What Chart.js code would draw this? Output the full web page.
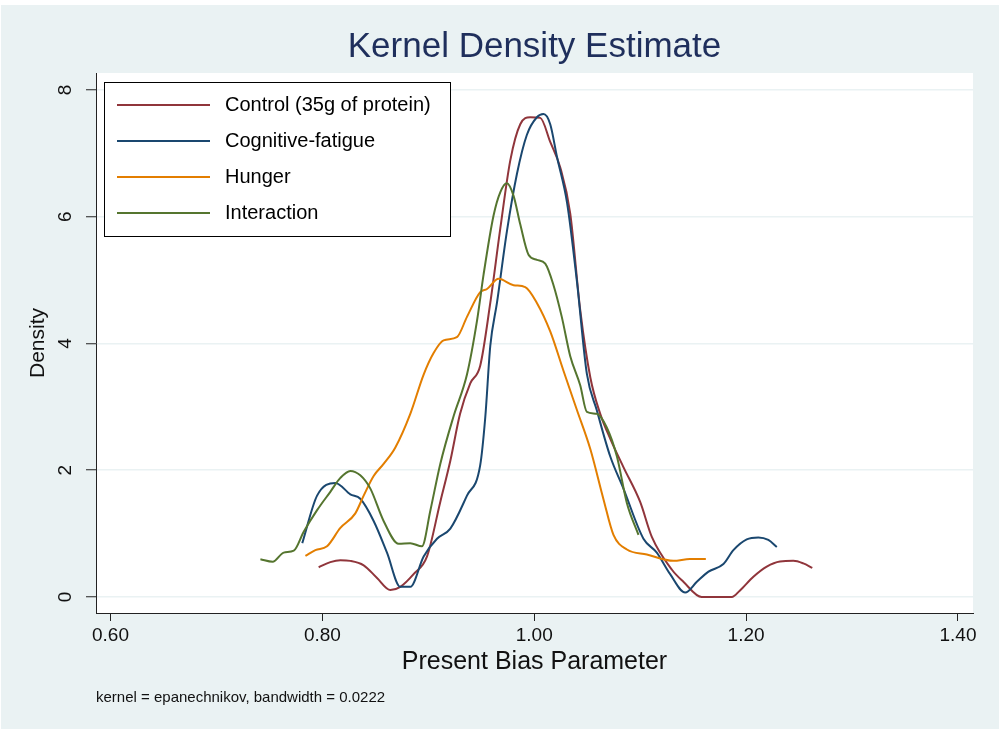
<!DOCTYPE html>
<html lang="en">
<head>
<meta charset="UTF-8">
<title>Kernel Density Estimate</title>
<script src="https://cdn.jsdelivr.net/npm/chart.js"></script>
<style>
  html, body { margin: 0; padding: 0; background: #ffffff; }
  canvas { display: block; }
</style>
</head>
<body>
<canvas id="kdensity" width="999" height="729"></canvas>
<script>
// series labels (legend order)
const seriesLabels = ['Control (35g of protein)', 'Cognitive-fatigue', 'Hunger', 'Interaction'];

// Control (35g of protein)
const controlX = [0.7965, 0.8075, 0.817, 0.8264, 0.839, 0.8516, 0.8642, 0.8736, 0.8861, 0.8988, 0.9113, 0.9208, 0.930, 0.9396, 0.949, 0.9585, 0.968, 0.9774, 0.9868, 0.9962, 1.0057, 1.0151, 1.0245, 1.034, 1.0434, 1.053, 1.0623, 1.0717, 1.0842, 1.100, 1.111, 1.130, 1.1408, 1.158, 1.1865, 1.194, 1.2069, 1.2195, 1.232, 1.2446, 1.254, 1.2625];
const controlY = [0.47, 0.55, 0.58, 0.57, 0.50, 0.30, 0.11, 0.16, 0.36, 0.64, 1.50, 2.15, 2.89, 3.37, 3.65, 4.64, 5.82, 6.89, 7.46, 7.57, 7.56, 7.18, 6.78, 6.05, 4.53, 3.46, 2.89, 2.50, 2.05, 1.50, 0.95, 0.43, 0.24, 0, 0, 0.10, 0.32, 0.48, 0.56, 0.57, 0.53, 0.46];

// Cognitive-fatigue
const fatigueX = [0.781, 0.795, 0.8123, 0.8264, 0.8358, 0.8484, 0.861, 0.8736, 0.883, 0.8956, 0.9082, 0.9208, 0.9365, 0.949, 0.9538, 0.9585, 0.9648, 0.9742, 0.9836, 0.993, 1.0025, 1.0087, 1.0151, 1.0214, 1.031, 1.0403, 1.0497, 1.059, 1.0717, 1.0842, 1.1031, 1.1157, 1.1283, 1.1425, 1.1535, 1.1645, 1.1786, 1.188, 1.2006, 1.2116, 1.221, 1.229];
const fatigueY = [0.85, 1.60, 1.80, 1.62, 1.55, 1.20, 0.70, 0.16, 0.16, 0.64, 0.92, 1.08, 1.60, 2.08, 2.84, 3.96, 4.64, 5.77, 6.67, 7.29, 7.57, 7.62, 7.46, 6.95, 6.22, 4.98, 3.52, 2.95, 2.22, 1.71, 0.92, 0.70, 0.36, 0.07, 0.24, 0.40, 0.52, 0.74, 0.91, 0.94, 0.90, 0.79];

// Hunger
const hungerX = [0.784, 0.7934, 0.8044, 0.817, 0.8311, 0.839, 0.8484, 0.8578, 0.8689, 0.883, 0.8956, 0.905, 0.9144, 0.927, 0.9365, 0.949, 0.9554, 0.9663, 0.9805, 0.9915, 1.0025, 1.0151, 1.0276, 1.0403, 1.053, 1.0654, 1.0748, 1.0875, 1.1063, 1.1314, 1.147, 1.162];
const hungerY = [0.65, 0.74, 0.80, 1.09, 1.32, 1.60, 1.91, 2.10, 2.36, 2.89, 3.51, 3.85, 4.05, 4.10, 4.42, 4.81, 4.86, 5.02, 4.92, 4.89, 4.64, 4.19, 3.57, 2.95, 2.33, 1.54, 0.98, 0.75, 0.67, 0.57, 0.60, 0.60];

// Interaction
const interactionX = [0.7415, 0.7531, 0.7635, 0.773, 0.7824, 0.795, 0.8075, 0.817, 0.8264, 0.8358, 0.8453, 0.8578, 0.872, 0.883, 0.894, 0.902, 0.9113, 0.924, 0.9365, 0.946, 0.9522, 0.9616, 0.968, 0.9742, 0.9805, 0.9868, 0.9946, 1.0025, 1.0104, 1.0182, 1.026, 1.034, 1.0434, 1.0497, 1.059, 1.0686, 1.078, 1.0875, 1.0984];
const interactionY = [0.595, 0.555, 0.70, 0.73, 1.03, 1.37, 1.66, 1.88, 1.99, 1.92, 1.71, 1.20, 0.84, 0.85, 0.80, 1.37, 2.10, 2.86, 3.51, 4.36, 5.09, 6.02, 6.39, 6.53, 6.33, 5.88, 5.40, 5.32, 5.26, 4.92, 4.42, 3.80, 3.34, 2.92, 2.89, 2.67, 2.22, 1.48, 0.98];

// axis ticks
const xTicks = [0.6, 0.8, 1.0, 1.2, 1.4];
const yTicks = [0, 2, 4, 6, 8];

const colors = ['#90353b', '#1a476f', '#e37e00', '#55752f'];
const toPoints = (xs, ys) => xs.map((x, i) => ({ x: x, y: ys[i] }));

Chart.defaults.font.family = '"Liberation Sans", Arial, sans-serif';
Chart.defaults.color = '#111';

// stata style backdrop
const backdrop = {
    id: 'backdrop',
    beforeDraw(chart) {
        const { ctx, chartArea: a } = chart;
        ctx.save();
        ctx.fillStyle = '#eaf2f3';
        ctx.fillRect(1, 5, chart.width - 1, chart.height - 5);
        ctx.fillStyle = '#ffffff';
        ctx.fillRect(a.left, a.top, a.right - a.left, a.bottom - a.top);
        ctx.restore();
    }
};

// boxed legend in the top-left corner of the plot
const boxLegend = {
    id: 'boxLegend',
    afterDraw(chart) {
        const { ctx, chartArea: a } = chart;
        const bx = a.left + 8, by = a.top + 9, bw = 346, bh = 154;
        ctx.save();
        ctx.fillStyle = '#ffffff';
        ctx.fillRect(bx, by, bw, bh);
        ctx.strokeStyle = '#000';
        ctx.lineWidth = 1;
        ctx.strokeRect(bx + 0.5, by + 0.5, bw, bh);
        ctx.font = '20px "Liberation Sans", Arial, sans-serif';
        ctx.textBaseline = 'middle';
        ctx.textAlign = 'left';
        chart.data.datasets.forEach((ds, i) => {
            const y = by + 23 + i * 36;
            ctx.strokeStyle = ds.borderColor;
            ctx.lineWidth = 2;
            ctx.beginPath();
            ctx.moveTo(bx + 13, y);
            ctx.lineTo(bx + 106, y);
            ctx.stroke();
            ctx.fillStyle = '#000';
            ctx.fillText(ds.label, bx + 121, y);
        });
        ctx.restore();
    }
};

const series = [
    toPoints(controlX, controlY),
    toPoints(fatigueX, fatigueY),
    toPoints(hungerX, hungerY),
    toPoints(interactionX, interactionY)
];

new Chart(document.getElementById('kdensity'), {
    type: 'scatter',
    data: {
        datasets: series.map((pts, i) => ({
            label: seriesLabels[i],
            data: pts,
            showLine: true,
            borderColor: colors[i],
            backgroundColor: colors[i],
            borderWidth: 2,
            pointRadius: 0,
            cubicInterpolationMode: 'monotone',
            order: 3 - i
        }))
    },
    options: {
        responsive: false,
        animation: false,
        layout: { padding: { left: 0, right: 26, top: 0, bottom: 0 } },
        plugins: {
            legend: { display: false },
            tooltip: { enabled: false },
            title: {
                display: true,
                text: 'Kernel Density Estimate',
                fullSize: false,
                color: '#1f2f5c',
                font: { size: 35, weight: 'normal' },
                padding: { top: 26, bottom: 5 }
            },
            subtitle: {
                display: true,
                position: 'bottom',
                fullSize: false,
                align: 'start',
                text: 'kernel = epanechnikov, bandwidth = 0.0222',
                color: '#111',
                font: { size: 15 },
                padding: { top: 12, bottom: 22 }
            }
        },
        scales: {
            x: {
                type: 'linear',
                min: 0.5863,
                max: 1.4142,
                afterBuildTicks: s => { s.ticks = xTicks.map(v => ({ value: v })); },
                afterFit: s => { s.height = 64; },
                grid: { drawOnChartArea: false, tickLength: 8, tickColor: '#222', tickWidth: 1 },
                border: { color: '#222', width: 1 },
                ticks: {
                    autoSkip: false,
                    maxRotation: 0,
                    padding: 3,
                    color: '#111',
                    font: { size: 19 },
                    callback: v => Number(v).toFixed(2)
                },
                title: {
                    display: true,
                    text: 'Present Bias Parameter',
                    color: '#111',
                    font: { size: 25 },
                    padding: { top: 0, bottom: 0 }
                }
            },
            y: {
                type: 'linear',
                min: -0.2525,
                max: 8.268,
                afterBuildTicks: s => { s.ticks = yTicks.map(v => ({ value: v })); },
                afterFit: s => { s.width = 96; },
                grid: { color: '#eaf2f3', lineWidth: 1.5, tickLength: 10, tickColor: '#222', tickWidth: 1 },
                border: { color: '#222', width: 1 },
                ticks: {
                    minRotation: 90,
                    maxRotation: 90,
                    crossAlign: 'center',
                    padding: 15,
                    color: '#111',
                    font: { size: 19 }
                },
                title: {
                    display: true,
                    text: 'Density',
                    color: '#111',
                    font: { size: 21 },
                    padding: { top: 26, bottom: 0 }
                }
            }
        }
    },
    plugins: [backdrop, boxLegend]
});
</script>
</body>
</html>
